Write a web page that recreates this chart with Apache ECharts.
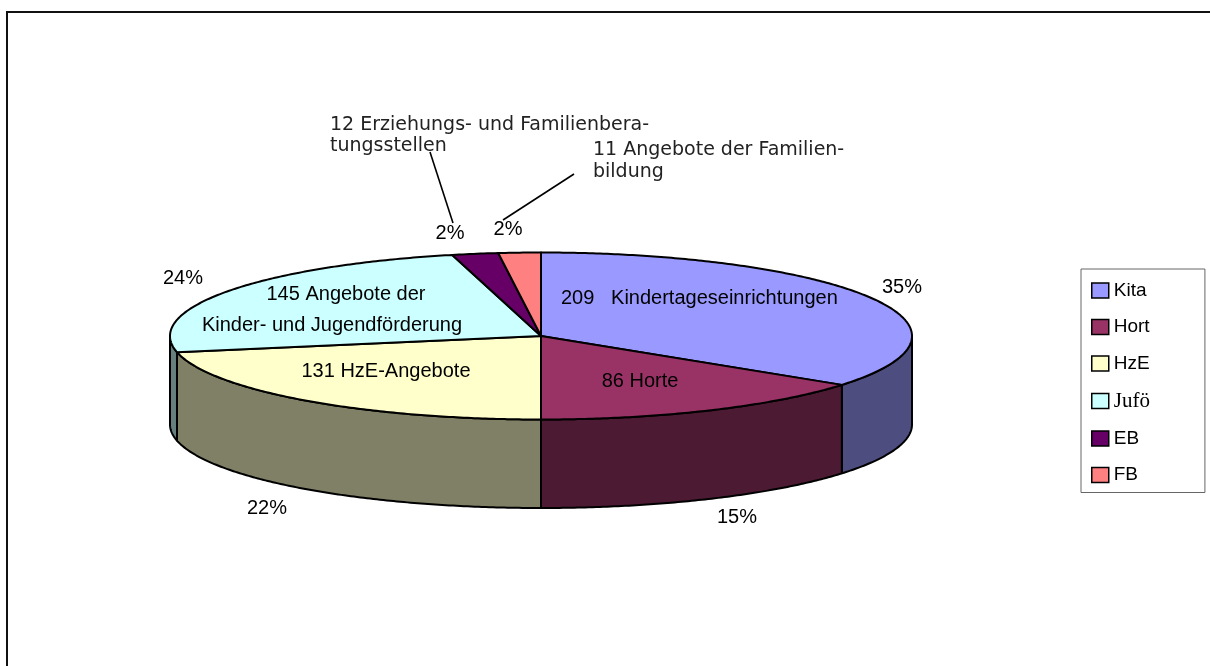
<!DOCTYPE html>
<html><head><meta charset="utf-8">
<style>html,body{margin:0;padding:0;background:#fff}#c{width:1210px;height:666px}</style>
<script src="https://cdn.jsdelivr.net/npm/echarts@6/dist/echarts.min.js"></script>
</head><body><div id="c"></div>
<script>
const categories = ['Kita','Hort','HzE','Jufö','EB','FB'];
// Values. The Hort slice is drawn at about 15% (90 of 598),
// even though its printed annotation says 86.
const values = [209,90,131,145,12,11];
const percentLabels = ['35%','15%','22%','24%','2%','2%'];
const topColors = ['#9999FF','#993366','#FFFFCC','#CCFFFF','#660066','#FF8080'];
const wallColors = ['#4D4D80','#4C1A33','#808066','#668080','#330033','#804040'];
const sliceTexts = [
  '209   Kindertageseinrichtungen','86 Horte','131 HzE-Angebote',
  '145 Angebote der','Kinder- und Jugendförderung'
];
const calloutTexts = ['12 Erziehungs- und Familienbera-','tungsstellen','11 Angebote der Familien-','bildung'];

const CX=541, CY=336, RX=371, RY=83.5, DEPTH=88.5;
const total = values.reduce((a,b)=>a+b,0);
const pt = (t,dy=0)=>[CX+RX*Math.sin(t), CY-RY*Math.cos(t)+dy];
function arc(a,b,dy){const n=Math.max(2,Math.ceil((b-a)/0.01));const r=[];for(let i=0;i<=n;i++)r.push(pt(a+(b-a)*i/n,dy));return r;}
const border={stroke:'#000',lineWidth:2,lineJoin:'round'};

const series = categories.map((name,i)=>({
  name, type:'custom', coordinateSystem:'none', silent:true,
  itemStyle:{color:topColors[i]},
  data:[values[i]],
  renderItem(){
    const before=values.slice(0,i).reduce((a,b)=>a+b,0);
    const a=before/total*2*Math.PI, b=(before+values[i])/total*2*Math.PI;
    const children=[];
    const w0=Math.max(a,Math.PI/2), w1=Math.min(b,Math.PI*1.5);
    if(w1>w0){
      children.push({type:'polygon',shape:{points:arc(w0,w1,0).concat(arc(w0,w1,DEPTH).reverse())},
        style:Object.assign({fill:wallColors[i]},border)});
    }
    children.push({type:'polygon',z2:2,shape:{points:[[CX,CY]].concat(arc(a,b,0))},
      style:Object.assign({fill:topColors[i]},border)});
    return {type:'group',children};
  }
}));

const F='"Liberation Sans",Arial,sans-serif';
const txt=(text,x,y,align,font,size,fill)=>({type:'text',x,y,z:20,silent:true,
  style:{text,fill:fill||'#000',font:`${size}px ${font}`,textAlign:align,textVerticalAlign:'middle'}});
const line=(x1,y1,x2,y2)=>({type:'line',z:19,silent:true,shape:{x1,y1,x2,y2},style:{stroke:'#000',lineWidth:1.6}});
const CF='"DejaVu Sans",sans-serif';
const graphics=[
  {type:'polyline',z:1,silent:true,shape:{points:[[7,667],[7,12],[1211,12]]},style:{fill:null,stroke:'#111',lineWidth:2}},
  line(430,152,453,223), line(574,174,503,220),
  txt(calloutTexts[0],330,125,'left',CF,19,'#222'),
  txt(calloutTexts[1],330,146,'left',CF,19,'#222'),
  txt(calloutTexts[2],593,150,'left',CF,19,'#222'),
  txt(calloutTexts[3],593,172,'left',CF,19,'#222'),
  txt(percentLabels[0],902,287,'center',F,20),
  txt(percentLabels[1],737,517,'center',F,20),
  txt(percentLabels[2],267,508,'center',F,20),
  txt(percentLabels[3],183,278,'center',F,20),
  txt(percentLabels[4],450,233,'center',F,20),
  txt(percentLabels[5],508,229,'center',F,20),
  txt(sliceTexts[0],561,298,'left',F,20),
  txt(sliceTexts[1],640,381,'center',F,20),
  txt(sliceTexts[2],386,371,'center',F,20),
  txt(sliceTexts[3],346,294,'center',F,20),
  txt(sliceTexts[4],332,325,'center',F,20)
];

const chart=echarts.init(document.getElementById('c'),null,{renderer:'canvas'});
chart.setOption({
  animation:false, backgroundColor:'#fff',
  legend:{
    orient:'vertical', left:1081, top:269, padding:[12,55,8,10],
    itemWidth:17, itemHeight:15, itemGap:17.5, icon:'rect',
    borderColor:'#666', borderWidth:1, backgroundColor:'#fff',
    selectedMode:false,
    itemStyle:{borderColor:'#000',borderWidth:1.5},
    textStyle:{fontFamily:F,fontSize:19,color:'#000'},
    data:categories.map(name=>name==='Jufö'?{name,textStyle:{fontFamily:'"Liberation Serif",serif',fontSize:21}}:{name})
  },
  series,
  graphic:graphics
});
</script></body></html>
